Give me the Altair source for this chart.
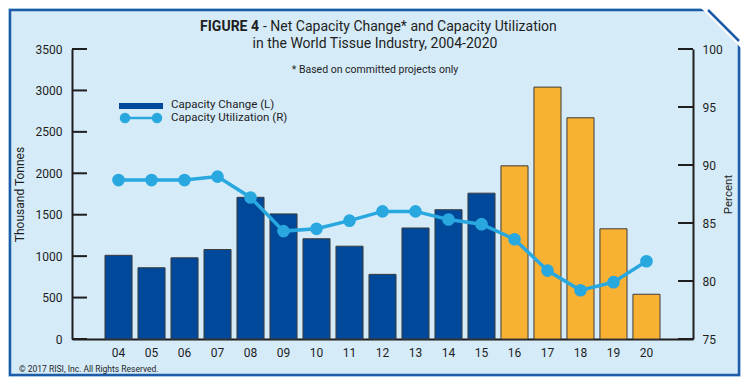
import altair as alt
import pandas as pd

# ---------------- data ----------------
years = ["04", "05", "06", "07", "08", "09", "10", "11", "12",
         "13", "14", "15", "16", "17", "18", "19", "20"]
capacity_change = [1010, 860, 980, 1080, 1710, 1510, 1210, 1120, 780,
                   1340, 1560, 1760, 2090, 3040, 2670, 1330, 540]
utilization = [88.7, 88.7, 88.7, 89.0, 87.2, 84.3, 84.5, 85.2, 86.0,
               86.0, 85.3, 84.9, 83.6, 80.9, 79.2, 79.9, 81.7]
period = ["actual"] * 12 + ["forecast"] * 5
left_ticks = [0, 500, 1000, 1500, 2000, 2500, 3000, 3500]
right_ticks = [75, 80, 85, 90, 95, 100]

df = pd.DataFrame({"yr": years, "cap": capacity_change,
                   "util": utilization, "period": period})

FONT = "Roboto"
INK = "#1e1e1e"
BLUE = "#00489a"
ORANGE = "#f8b133"
LINE = "#29a8e0"
BG = "#d5ebf8"
FRAME = "#1f5ca8"

W, H = 621, 290

x_enc = alt.X("yr:N", sort=years,
              scale=alt.Scale(paddingInner=0.18, paddingOuter=1),
              axis=alt.Axis(title=None, labelAngle=0, ticks=False,
                            labelPadding=8, domainColor=INK, domainWidth=2,
                            labelFont=FONT, labelFontSize=12, labelColor=INK))

bars = alt.Chart(df).mark_bar(stroke="#3c3c3c", strokeWidth=1).encode(
    x=x_enc,
    y=alt.Y("cap:Q", scale=alt.Scale(domain=[0, 3500], nice=False),
            axis=alt.Axis(title="Thousand Tonnes", values=left_ticks, format="d",
                          ticks=False, grid=False, labelPadding=10, domainColor=INK,
                          domainWidth=2, labelFont=FONT, labelFontSize=12,
                          labelColor=INK, titleFont=FONT, titleFontSize=12,
                          titleFontWeight="normal", titleColor=INK, titlePadding=9)),
    color=alt.Color("period:N", scale=alt.Scale(domain=["actual", "forecast"],
                                                range=[BLUE, ORANGE]), legend=None),
)

lt = alt.Chart(pd.DataFrame({"cap": left_ticks})).mark_rule(color=INK, strokeWidth=2).encode(
    y=alt.Y("cap:Q"), x=alt.value(0), x2=alt.value(15))

left = alt.layer(bars, lt)

y_right = alt.Y("util:Q", scale=alt.Scale(domain=[75, 100], nice=False, zero=False),
                axis=alt.Axis(title="Percent", orient="right", values=right_ticks,
                              ticks=False, grid=False, labelPadding=9,
                              domainColor=INK, domainWidth=2, labelFont=FONT,
                              labelFontSize=12, labelColor=INK, titleFont=FONT,
                              titleFontSize=11.5, titleFontWeight="normal",
                              titleColor=INK, titlePadding=11, titleAngle=270))

line = alt.Chart(df).mark_line(color=LINE, strokeWidth=3.5).encode(
    x=alt.X("yr:N", sort=years), y=y_right)
pts = alt.Chart(df).mark_circle(color=LINE, size=160, opacity=1).encode(
    x=alt.X("yr:N", sort=years), y=alt.Y("util:Q"))
rt = alt.Chart(pd.DataFrame({"util": right_ticks})).mark_rule(color=INK, strokeWidth=2).encode(
    y=alt.Y("util:Q"), x=alt.value(W - 15), x2=alt.value(W))

right = alt.layer(line, pts, rt)

dual = alt.layer(left, right).resolve_scale(y="independent")


def txt(text, x, y, size=12, weight="normal", align="left", color=INK):
    return alt.Chart(pd.DataFrame({"t": [text]})).mark_text(
        align=align, baseline="middle", font=FONT, fontSize=size,
        fontWeight=weight, color=color).encode(
        x=alt.value(x), y=alt.value(y), text="t:N")


one = pd.DataFrame({"k": [0]})

frame = alt.Chart(one).mark_rect(fillOpacity=0, stroke=FRAME, strokeWidth=2.5).encode(
    x=alt.value(-62), x2=alt.value(667), y=alt.value(-39), y2=alt.value(326))
corner = alt.Chart(one).mark_point(shape="M-1,-1L1,-1L1,1Z", filled=True,
                                   fill="white", opacity=1, size=1600,
                                   strokeWidth=0).encode(
    x=alt.value(649), y=alt.value(-21))
diag = alt.Chart(one).mark_rule(color=FRAME, strokeWidth=2.5).encode(
    x=alt.value(636), x2=alt.value(667), y=alt.value(-39), y2=alt.value(-8))

leg_rect = alt.Chart(one).mark_rect(color=BLUE).encode(
    x=alt.value(47), x2=alt.value(91), y=alt.value(54), y2=alt.value(60))
leg_line = alt.Chart(one).mark_rule(color=LINE, strokeWidth=2.5).encode(
    x=alt.value(53), x2=alt.value(85), y=alt.value(69))
leg_c1 = alt.Chart(one).mark_circle(color=LINE, size=110, opacity=1).encode(
    x=alt.value(53), y=alt.value(69))
leg_c2 = alt.Chart(one).mark_circle(color=LINE, size=110, opacity=1).encode(
    x=alt.value(85), y=alt.value(69))

annotations = [
    frame, corner, diag,
    txt("FIGURE 4", 187, -22, size=14, weight="bold", align="right"),
    txt("- Net Capacity Change* and Capacity Utilization", 191, -22, size=14),
    txt("in the World Tissue Industry, 2004-2020", 303, -5, size=14, align="center"),
    txt("* Based on committed projects only", 303, 21, size=10.5, align="center"),
    leg_rect, leg_line, leg_c1, leg_c2,
    txt("Capacity Change (L)", 99, 56, size=11.5),
    txt("Capacity Utilization (R)", 99, 69, size=11.5),
    txt("© 2017 RISI, Inc. All Rights Reserved.", -53, 320, size=8.5),
]

chart = alt.layer(dual, *annotations).properties(
    width=W, height=H,
    padding={"left": 64, "top": 41, "right": 48, "bottom": 38},
    autosize=alt.AutoSizeParams(type="none"),
    background=BG,
).configure_view(strokeWidth=0)

chart.save("out.html", embed_options={"renderer": "svg", "actions": False})
